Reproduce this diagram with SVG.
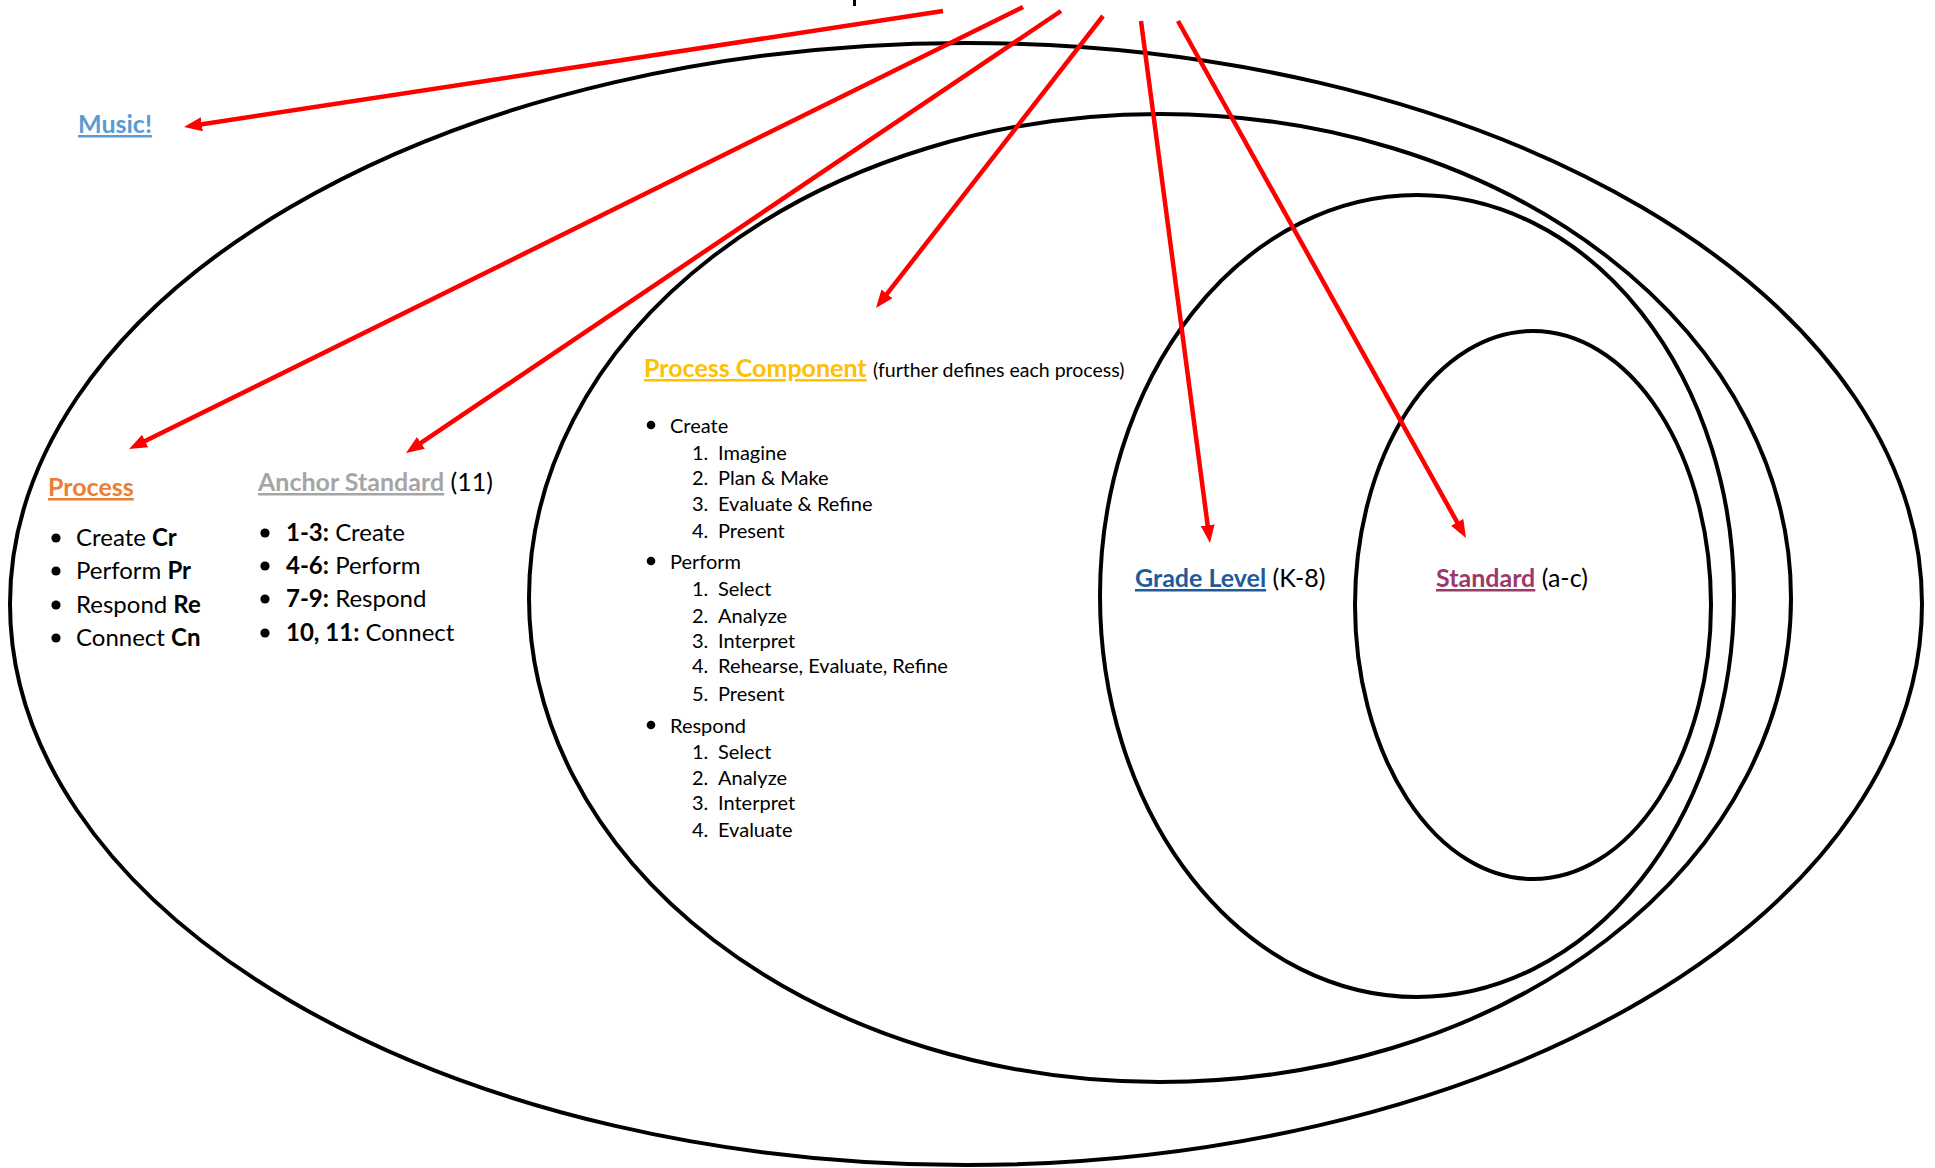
<svg xmlns="http://www.w3.org/2000/svg" width="1935" height="1168" viewBox="0 0 1935 1168">
<defs>
<style>
text{font-family:Lato,"Open Sans","Liberation Sans",sans-serif;fill:#000}
.hd{font-weight:bold;text-decoration:underline}
.big{font-size:25px}
.lst{font-size:24px}
.sm{font-size:20px}
.note{font-size:19.5px}
.b{font-weight:bold}
.set{fill:none;stroke:#000;stroke-width:4}
.arrow{stroke:#ff0000;stroke-width:4.5;fill:none;marker-end:url(#ah)}
.dot{fill:#000}
</style>
<marker id="ah" markerUnits="userSpaceOnUse" viewBox="0 0 18 14" markerWidth="18" markerHeight="14" refX="8" refY="7" orient="auto">
<path d="M0,0 L18,7 L0,14 z" fill="#ff0000"/>
</marker>
</defs>
<rect width="1935" height="1168" fill="#fff"/>
<rect x="853" y="0" width="3" height="6" fill="#000"/>
<g id="sets">
<ellipse class="set" cx="966" cy="604" rx="956" ry="561"/>
<ellipse class="set" cx="1160" cy="598" rx="631" ry="484"/>
<ellipse class="set" cx="1417" cy="596" rx="317" ry="401"/>
<ellipse class="set" cx="1533" cy="605" rx="178" ry="274"/>
</g>
<g id="music">
<text class="big hd" x="78" y="133" style="fill:#5B9BD5">Music!</text>
</g>
<g id="process">
<text class="big hd" x="48" y="496" style="fill:#ED7D31">Process</text>
<circle class="dot" cx="56" cy="538" r="4.6"/>
<circle class="dot" cx="56" cy="571" r="4.6"/>
<circle class="dot" cx="56" cy="605" r="4.6"/>
<circle class="dot" cx="56" cy="638" r="4.6"/>
<text class="lst" x="76" y="546">Create <tspan class="b">Cr</tspan></text>
<text class="lst" x="76" y="579">Perform <tspan class="b">Pr</tspan></text>
<text class="lst" x="76" y="613">Respond <tspan class="b">Re</tspan></text>
<text class="lst" x="76" y="646">Connect <tspan class="b">Cn</tspan></text>
</g>
<g id="anchor-standard">
<text class="big" x="258" y="491"><tspan class="hd" style="fill:#A5A5A5">Anchor Standard</tspan> (11)</text>
<circle class="dot" cx="265" cy="533" r="4.6"/>
<circle class="dot" cx="265" cy="566" r="4.6"/>
<circle class="dot" cx="265" cy="599" r="4.6"/>
<circle class="dot" cx="265" cy="633" r="4.6"/>
<text class="lst" x="286" y="541"><tspan class="b">1-3:</tspan> Create</text>
<text class="lst" x="286" y="574"><tspan class="b">4-6:</tspan> Perform</text>
<text class="lst" x="286" y="607"><tspan class="b">7-9:</tspan> Respond</text>
<text class="lst" x="286" y="641"><tspan class="b">10, 11:</tspan> Connect</text>
</g>
<g id="process-component">
<text class="big" x="644" y="377"><tspan class="hd" style="fill:#FFC000">Process Component</tspan> <tspan class="note">(further defines each process)</tspan></text>
<circle class="dot" cx="651" cy="425" r="4.3"/>
<circle class="dot" cx="651" cy="561" r="4.3"/>
<circle class="dot" cx="651" cy="725" r="4.3"/>
<g class="sm">
<text x="670" y="433">Create</text>
<text x="692" y="460">1.</text><text x="718" y="460">Imagine</text>
<text x="692" y="485">2.</text><text x="718" y="485">Plan &amp; Make</text>
<text x="692" y="511">3.</text><text x="718" y="511">Evaluate &amp; Refine</text>
<text x="692" y="538">4.</text><text x="718" y="538">Present</text>
<text x="670" y="569">Perform</text>
<text x="692" y="596">1.</text><text x="718" y="596">Select</text>
<text x="692" y="623">2.</text><text x="718" y="623">Analyze</text>
<text x="692" y="648">3.</text><text x="718" y="648">Interpret</text>
<text x="692" y="673">4.</text><text x="718" y="673">Rehearse, Evaluate, Refine</text>
<text x="692" y="701">5.</text><text x="718" y="701">Present</text>
<text x="670" y="733">Respond</text>
<text x="692" y="759">1.</text><text x="718" y="759">Select</text>
<text x="692" y="785">2.</text><text x="718" y="785">Analyze</text>
<text x="692" y="810">3.</text><text x="718" y="810">Interpret</text>
<text x="692" y="837">4.</text><text x="718" y="837">Evaluate</text>
</g>
</g>
<g id="grade-level">
<text class="big" x="1135" y="587"><tspan class="hd" style="fill:#1F5A9A">Grade Level</tspan> (K-8)</text>
</g>
<g id="standard">
<text class="big" x="1436" y="587"><tspan class="hd" style="fill:#9B3A68">Standard</tspan> (a-c)</text>
</g>
<g id="connectors">
<line class="arrow" x1="943" y1="11" x2="193.9" y2="125.5"/>
<line class="arrow" x1="1023" y1="7" x2="138" y2="444.6"/>
<line class="arrow" x1="1061" y1="11" x2="414.3" y2="447.4"/>
<line class="arrow" x1="1103" y1="16" x2="882.1" y2="300.1"/>
<line class="arrow" x1="1141" y1="21" x2="1208.7" y2="533.1"/>
<line class="arrow" x1="1178" y1="21" x2="1461.1" y2="529.3"/>
</g>
</svg>
